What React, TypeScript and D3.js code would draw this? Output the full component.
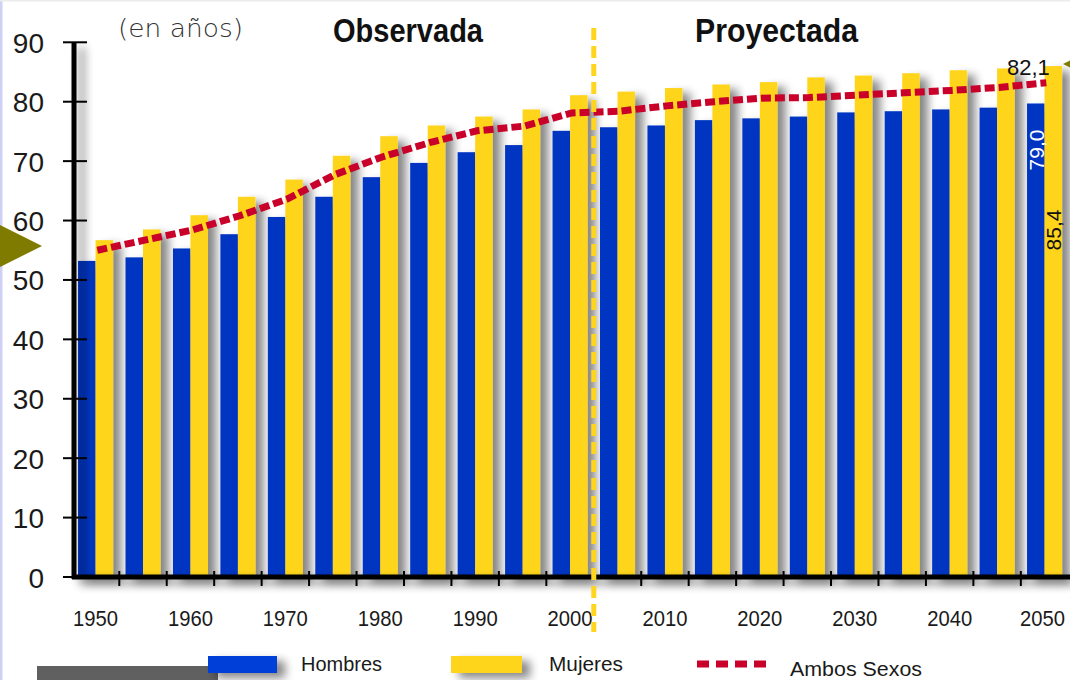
import { useRef, useEffect } from 'react';
import * as d3 from 'd3';

// Esperanza de vida al nacer, por sexo (en años)
const years = [
  '1950', '1955', '1960', '1965', '1970', '1975', '1980', '1985', '1990', '1995', '2000',
  '2005', '2010', '2015', '2020', '2025', '2030', '2035', '2040', '2045', '2050',
];
const hombres = [
  53.2, 53.8, 55.3, 57.7, 60.6, 64.0, 67.3, 69.7, 71.5, 72.7, 75.1,
  75.7, 76.0, 76.9, 77.2, 77.5, 78.2, 78.4, 78.7, 79.0, 79.7,
];
const mujeres = [
  56.7, 58.5, 60.9, 64.0, 66.9, 70.9, 74.2, 76.0, 77.5, 78.7, 81.1,
  81.7, 82.3, 82.9, 83.3, 84.1, 84.4, 84.8, 85.3, 85.6, 86.0,
];
const ambos = [
  55.0, 56.7, 58.4, 60.8, 63.6, 67.7, 70.7, 73.1, 75.1, 75.9, 78.1,
  78.4, 79.3, 80.0, 80.6, 80.7, 81.1, 81.5, 81.9, 82.4, 83.2,
];
const yTicks = [0, 10, 20, 30, 40, 50, 60, 70, 80, 90];
const xLabels = ['1950', '1960', '1970', '1980', '1990', '2000', '2010', '2020', '2030', '2040', '2050'];
const lastLabels = { ambos: '82,1', hombres: '79,0', mujeres: '85,4' };

const BLUE = '#0034c2';
const YELLOW = '#ffd51f';
const RED = '#c8002a';
const OLIVE = '#7f7a00';
const FONT = '"Liberation Sans", Arial, sans-serif';

function LifeChart() {
  const svgRef = useRef(null);

  useEffect(() => {
    const svg = d3.select(svgRef.current);
    svg.selectAll('*').remove();

    const x = d3
      .scaleBand()
      .domain(years)
      .range([73.3, 1066.8])
      .paddingInner(0.262)
      .paddingOuter(0.1);
    const bw = x.bandwidth() / 2;
    const gapMid = (x.step() - x.bandwidth()) / 2;

    const y = d3.scaleLinear().domain([0, 90]).range([577, 42.3]);

    const defs = svg.append('defs');
    const f = defs
      .append('filter')
      .attr('id', 'shadow')
      .attr('filterUnits', 'userSpaceOnUse')
      .attr('x', 0)
      .attr('y', 0)
      .attr('width', 1100)
      .attr('height', 700);
    f.append('feGaussianBlur').attr('in', 'SourceAlpha').attr('stdDeviation', 5);
    f.append('feOffset').attr('dx', 8).attr('dy', 5).attr('result', 'off');
    f.append('feComponentTransfer')
      .append('feFuncA')
      .attr('type', 'linear')
      .attr('slope', 0.48);
    const merge = f.append('feMerge');
    merge.append('feMergeNode');
    merge.append('feMergeNode').attr('in', 'SourceGraphic');

    // page frame bits
    svg.append('rect').attr('width', 1070).attr('height', 680).attr('fill', '#fff');
    svg.append('rect').attr('width', 2.5).attr('height', 680).attr('fill', '#cfd0f5');
    svg.append('rect').attr('width', 1070).attr('height', 1.5).attr('fill', '#ececec');

    // bars
    const bars = svg.append('g').attr('filter', 'url(#shadow)');
    bars
      .selectAll('rect.h')
      .data(hombres)
      .enter()
      .append('rect')
      .attr('x', (d, i) => x(years[i]))
      .attr('y', (d) => y(d))
      .attr('width', bw)
      .attr('height', (d) => y(0) - y(d))
      .attr('fill', BLUE);
    bars
      .selectAll('rect.m')
      .data(mujeres)
      .enter()
      .append('rect')
      .attr('x', (d, i) => x(years[i]) + bw)
      .attr('y', (d) => y(d))
      .attr('width', bw)
      .attr('height', (d) => y(0) - y(d))
      .attr('fill', YELLOW);

    // axes
    const axes = svg.append('g').attr('filter', 'url(#shadow)');
    axes
      .append('line')
      .attr('x1', 72)
      .attr('x2', 1070)
      .attr('y1', y(0))
      .attr('y2', y(0))
      .attr('stroke', '#000')
      .attr('stroke-width', 5);
    axes
      .append('line')
      .attr('x1', 74)
      .attr('x2', 74)
      .attr('y1', y(90))
      .attr('y2', y(0) + 2)
      .attr('stroke', '#000')
      .attr('stroke-width', 5);

    const yAxis = svg.append('g');
    yAxis
      .selectAll('line')
      .data(yTicks)
      .enter()
      .append('line')
      .attr('x1', 63)
      .attr('x2', 87)
      .attr('y1', (d) => y(d))
      .attr('y2', (d) => y(d))
      .attr('stroke', '#000')
      .attr('stroke-width', 2);
    yAxis
      .selectAll('text')
      .data(yTicks)
      .enter()
      .append('text')
      .attr('x', 44)
      .attr('y', (d) => y(d) + 10.5)
      .attr('text-anchor', 'end')
      .attr('font-family', FONT)
      .attr('font-size', 28)
      .attr('fill', '#1a1a1a')
      .text((d) => d);

    // x ticks between groups (the one at 2000/2005 is covered by the divider)
    const tickYears = years.slice(0, -1).filter((d) => d !== '2000');
    svg
      .append('g')
      .selectAll('line')
      .data(tickYears)
      .enter()
      .append('line')
      .attr('x1', (d) => x(d) + x.bandwidth() + gapMid)
      .attr('x2', (d) => x(d) + x.bandwidth() + gapMid)
      .attr('y1', 571)
      .attr('y2', 586)
      .attr('stroke', '#000')
      .attr('stroke-width', 2);

    svg
      .append('g')
      .selectAll('text')
      .data(xLabels)
      .enter()
      .append('text')
      .attr('x', (d) => x(d) + x.bandwidth() / 2 - (d === '2050' ? 2 : 0))
      .attr('y', 626)
      .attr('text-anchor', 'middle')
      .attr('font-family', FONT)
      .attr('font-size', 22.5)
      .attr('textLength', 45)
      .attr('lengthAdjust', 'spacingAndGlyphs')
      .attr('fill', '#1a1a1a')
      .text((d) => d);

    // ambos sexos line
    const line = d3
      .line()
      .x((d, i) => x(years[i]) + x.bandwidth() * 0.55)
      .y((d) => y(d));
    svg
      .append('path')
      .datum(ambos)
      .attr('d', line)
      .attr('fill', 'none')
      .attr('stroke', RED)
      .attr('stroke-width', 7)
      .attr('stroke-dasharray', '10,4');

    // divider observada / proyectada
    const divX = x('2000') + x.bandwidth() + gapMid;
    svg
      .append('line')
      .attr('x1', divX)
      .attr('x2', divX)
      .attr('y1', 28)
      .attr('y2', 632)
      .attr('stroke', YELLOW)
      .attr('stroke-width', 5)
      .attr('stroke-dasharray', '12,6');

    // titles
    svg
      .append('text')
      .attr('x', 118)
      .attr('y', 37)
      .attr('font-family', '"DejaVu Sans", sans-serif')
      .attr('font-weight', 200)
      .attr('font-size', 25)
      .attr('textLength', 125)
      .attr('lengthAdjust', 'spacingAndGlyphs')
      .attr('fill', '#333')
      .text('(en años)');
    svg
      .append('text')
      .attr('x', 333)
      .attr('y', 42)
      .attr('font-family', FONT)
      .attr('font-weight', 'bold')
      .attr('font-size', 34)
      .attr('textLength', 150)
      .attr('lengthAdjust', 'spacingAndGlyphs')
      .attr('fill', '#111')
      .text('Observada');
    svg
      .append('text')
      .attr('x', 695)
      .attr('y', 42)
      .attr('font-family', FONT)
      .attr('font-weight', 'bold')
      .attr('font-size', 34)
      .attr('textLength', 163)
      .attr('lengthAdjust', 'spacingAndGlyphs')
      .attr('fill', '#111')
      .text('Proyectada');

    // value labels for 2050
    const last = years[years.length - 1];
    svg
      .append('text')
      .attr('x', 1007)
      .attr('y', 75)
      .attr('font-family', FONT)
      .attr('font-size', 22)
      .attr('fill', '#111')
      .text(lastLabels.ambos);
    svg
      .append('text')
      .attr('transform', `translate(${x(last) + bw - 1},150) rotate(-90)`)
      .attr('text-anchor', 'middle')
      .attr('font-family', FONT)
      .attr('font-size', 21)
      .attr('fill', '#fff')
      .text(lastLabels.hombres);
    svg
      .append('text')
      .attr('transform', `translate(${x(last) + 2 * bw - 1},230) rotate(-90)`)
      .attr('text-anchor', 'middle')
      .attr('font-family', FONT)
      .attr('font-size', 21)
      .attr('fill', '#111')
      .text(lastLabels.mujeres);

    // arrows
    svg.append('polygon').attr('points', '0,225 42,246 0,267').attr('fill', OLIVE);
    svg.append('polygon').attr('points', '1063,64 1075,58 1075,70').attr('fill', OLIVE);

    // legend
    svg.append('rect').attr('x', 37).attr('y', 666).attr('width', 181).attr('height', 14).attr('fill', '#606060');
    const legend = svg.append('g');
    const sw = legend.append('g').attr('filter', 'url(#shadow)');
    sw.append('rect').attr('x', 208).attr('y', 656).attr('width', 69).attr('height', 17).attr('fill', '#0040d8');
    sw.append('rect').attr('x', 451).attr('y', 656).attr('width', 71).attr('height', 17).attr('fill', YELLOW);
    legend
      .append('line')
      .attr('x1', 697)
      .attr('x2', 766)
      .attr('y1', 664)
      .attr('y2', 664)
      .attr('stroke', RED)
      .attr('stroke-width', 7)
      .attr('stroke-dasharray', '12,7');
    const legendText = [
      { label: 'Hombres', x: 301, y: 671, w: 81 },
      { label: 'Mujeres', x: 549, y: 671, w: 74 },
      { label: 'Ambos Sexos', x: 790, y: 676, w: 132 },
    ];
    legend
      .selectAll('text')
      .data(legendText)
      .enter()
      .append('text')
      .attr('x', (d) => d.x)
      .attr('y', (d) => d.y)
      .attr('font-family', FONT)
      .attr('font-size', 20)
      .attr('textLength', (d) => d.w)
      .attr('lengthAdjust', 'spacingAndGlyphs')
      .attr('fill', '#1a1a1a')
      .text((d) => d.label);

    return () => {
      svg.selectAll('*').remove();
    };
  }, []);

  return (
    <svg
      ref={svgRef}
      width={1070}
      height={680}
      style={{ position: 'absolute', left: 0, top: 0, display: 'block' }}
    />
  );
}

export default function App() {
  return <LifeChart />;
}
